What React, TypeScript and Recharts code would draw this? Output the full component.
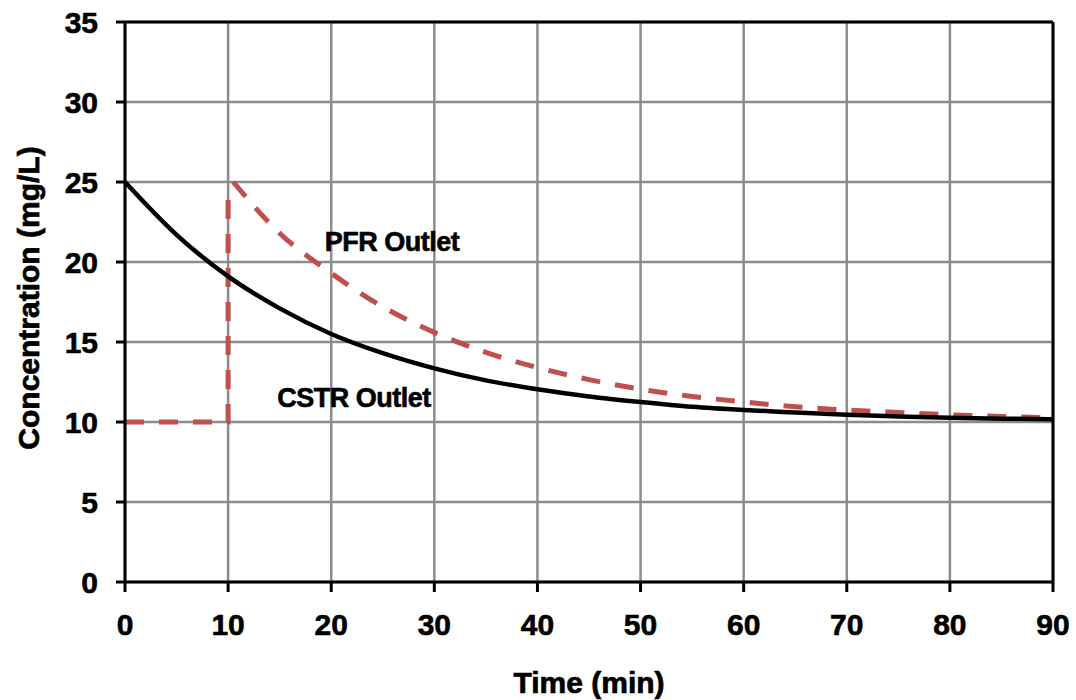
import React from 'react';
import { LineChart, Line, XAxis, YAxis, CartesianGrid, ReferenceLine, ReferenceDot } from 'recharts';

const xTicks = [0, 10, 20, 30, 40, 50, 60, 70, 80, 90];
const yTicks = [0, 5, 10, 15, 20, 25, 30, 35];

const cstrTimes = [0, 5, 10, 15, 20, 25, 30, 35, 40, 45, 50, 55, 60, 65, 70, 75, 80, 85, 90];
const cstrValues = [25.0, 21.7, 19.1, 17.1, 15.5, 14.3, 13.35, 12.6, 12.05, 11.6, 11.25, 10.95, 10.75, 10.6, 10.45, 10.35, 10.27, 10.21, 10.17];

const pfrStepTimes = [0, 10, 10];
const pfrStepValues = [10, 10, 24.6];

const pfrTimes = [10.5, 15, 20, 25, 30, 35, 40, 45, 50, 55, 60, 65, 70, 75, 80, 85, 90];
const pfrValues = [25.0, 21.8, 19.3, 17.2, 15.6, 14.35, 13.4, 12.65, 12.05, 11.6, 11.25, 10.95, 10.75, 10.6, 10.45, 10.35, 10.27];

const cstrData = cstrTimes.map((t, i) => ({ t, c: cstrValues[i] }));
const pfrStepData = pfrStepTimes.map((t, i) => ({ t, c: pfrStepValues[i] }));
const pfrData = pfrTimes.map((t, i) => ({ t, c: pfrValues[i] }));

const FONT = '"Liberation Sans", Arial, sans-serif';
const RED = '#C0504D';
const GRID = '#8C8C8C';

const YTitle = (props: any) => {
  const vb = props.viewBox;
  const cx = 28;
  const cy = vb.y + vb.height / 2 - 4;
  return (
    <text x={cx} y={cy} transform={`rotate(-90 ${cx} ${cy})`} textAnchor="middle" dominantBaseline="central"
      fontFamily={FONT} fontWeight="bold" fontSize={30} fill="#000" stroke="#000" strokeWidth={0.7}>Concentration (mg/L)</text>
  );
};

const XTitle = (props: any) => {
  const vb = props.viewBox;
  const cx = vb.x + vb.width / 2;
  const cy = 682;
  return (
    <text x={cx} y={cy} textAnchor="middle" dominantBaseline="central"
      fontFamily={FONT} fontWeight="bold" fontSize={30} fill="#000" stroke="#000" strokeWidth={0.7}>Time (min)</text>
  );
};

const Annot = (text: string) => (props: any) => {
  const vb = props.viewBox;
  const cx = vb.x + (vb.width || 0) / 2;
  const cy = vb.y + (vb.height || 0) / 2;
  return (
    <text x={cx} y={cy} textAnchor="middle" dominantBaseline="central"
      fontFamily={FONT} fontWeight="bold" fontSize={27} fill="#000" stroke="#000" strokeWidth={0.6} letterSpacing={-0.5}>{text}</text>
  );
};

const tickStyle = { fill: '#000', fontFamily: FONT, fontWeight: 'bold', fontSize: 30, stroke: '#000', strokeWidth: 0.6 };

export default function App() {
  return (
    <div style={{ position: 'absolute', left: 0, top: 0, width: 1076, height: 700, background: '#fff' }}>
      <LineChart width={1076} height={700} margin={{ top: 22, right: 23, left: 0, bottom: 0 }}>
        <CartesianGrid stroke={GRID} strokeWidth={2.5} vertical horizontal />
        <XAxis
          type="number"
          dataKey="t"
          domain={[0, 90]}
          ticks={xTicks}
          allowDataOverflow
          height={118}
          tickSize={10}
          tickMargin={22}
          axisLine={{ stroke: '#000', strokeWidth: 3 }}
          tickLine={{ stroke: '#000', strokeWidth: 3 }}
          tick={tickStyle}
          label={<XTitle />}
        />
        <YAxis
          type="number"
          domain={[0, 35]}
          ticks={yTicks}
          allowDataOverflow
          width={125}
          tickSize={9}
          tickMargin={18}
          axisLine={{ stroke: '#000', strokeWidth: 3 }}
          tickLine={{ stroke: '#000', strokeWidth: 3 }}
          tick={tickStyle}
          label={<YTitle />}
        />
        <ReferenceLine y={35} stroke="#000" strokeWidth={3} />
        <ReferenceLine x={90} stroke="#000" strokeWidth={3} />
        <Line data={pfrStepData} dataKey="c" type="linear" stroke={RED} strokeWidth={5} strokeDasharray="19 15" dot={false} isAnimationActive={false} />
        <Line data={pfrData} dataKey="c" type="monotone" stroke={RED} strokeWidth={5} strokeDasharray="19 15" dot={false} isAnimationActive={false} />
        <Line data={cstrData} dataKey="c" type="monotone" stroke="#000" strokeWidth={4.5} dot={false} isAnimationActive={false} />
        <ReferenceDot x={25.9} y={21.25} r={0} fill="none" stroke="none" label={Annot('PFR Outlet')} />
        <ReferenceDot x={22.2} y={11.5} r={0} fill="none" stroke="none" label={Annot('CSTR Outlet')} />
      </LineChart>
    </div>
  );
}
